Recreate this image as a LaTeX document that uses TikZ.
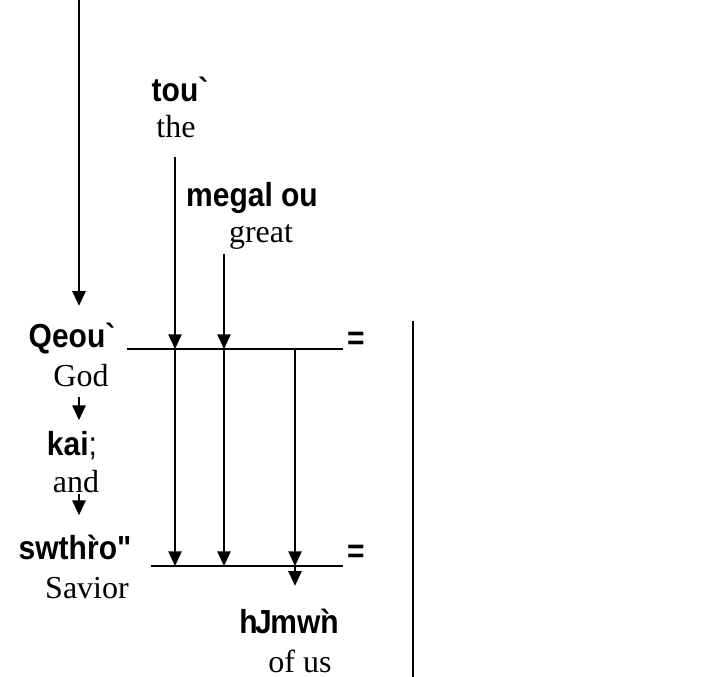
\documentclass[tikz,border=0pt]{standalone}
\usepackage{fontspec}
\setmainfont{Liberation Serif}
\newfontfamily\grk[FakeStretch=0.9]{Liberation Sans}
\usetikzlibrary{arrows.meta}
\tikzset{
    gk/.style={font=\grk\bfseries\fontsize{25}{29}\selectfont, inner sep=0pt, text depth=0pt, anchor=base},
    en/.style={font=\fontsize{24}{28}\selectfont, inner sep=0pt, text depth=0pt, anchor=base},
    arr/.style={-{Triangle[width=10pt,length=11pt]}},
}
\begin{document}
\begin{tikzpicture}[x=0.75pt, y=-0.75pt, line width=1.1pt]
    \useasboundingbox (0,0) rectangle (724,677);

    \node[gk] (tou) at (180, 102) {tou\symbol{96}};
    \node[en] (the) at (176, 138) {the};
    \node[gk] (megalou) at (252, 207) {megal ou};
    \node[en] (great) at (261, 243) {great};
    \node[gk] (Qeou) at (72, 347) {Qeou\symbol{96}};
    \node[en] (God) at (81, 386) {God};
    \node[gk] (kai) at (72, 455) {kai\textmd{;}};
    \node[en] (and) at (76, 492) {and};
    \node[gk] (swthro) at (75, 559) {swth\rlap{\symbol{96}}ro\symbol{34}};
    \node[en] (Savior) at (87, 598) {Savior};
    \node[gk] (hmwn) at (289, 633) {h\kern-2pt J\kern-1pt mw\rlap{\symbol{96}}n};
    \node[en] (ofus) at (300, 672) {of us};
    \node[gk, anchor=center] (eqU) at (356, 341) {=};
    \node[gk, anchor=center] (eqL) at (356, 554) {=};

    \coordinate (top) at (79, 0);
    \coordinate (uL) at (127, 349);
    \coordinate (uR) at (343, 349);
    \coordinate (uA) at (175, 349);
    \coordinate (uB) at (224, 349);
    \coordinate (uC) at (295, 349);
    \coordinate (lL) at (151, 566);
    \coordinate (lR) at (343, 566);
    \coordinate (lA) at (175, 566);
    \coordinate (lB) at (224, 566);
    \coordinate (lC) at (295, 566);
    \coordinate (rT) at (413, 321);
    \coordinate (rB) at (413, 677);

    \draw (uL) -- (uR);
    \draw (lL) -- (lR);
    \draw (rT) -- (rB);

    \draw [arr, shorten >=12pt] (top) -- (Qeou.north -| top);
    \draw [arr, shorten <=8pt, shorten >=7.5pt] (God.south -| top) -- (kai.north -| top);
    \draw [arr, shorten <=1pt, shorten >=14pt] (and.south -| top) -- (swthro.north -| top);
    \draw [arr, shorten <=14pt] (the.south -| uA) -- (uA);
    \draw [arr, shorten <=7.5pt] (great.south -| uB) -- (uB);
    \draw [arr] (uA) -- (lA);
    \draw [arr] (uB) -- (lB);
    \draw [arr] (uC) -- (lC);
    \draw [arr, shorten >=16.5pt] (lC) -- (hmwn.north -| lC);
\end{tikzpicture}
\end{document}
